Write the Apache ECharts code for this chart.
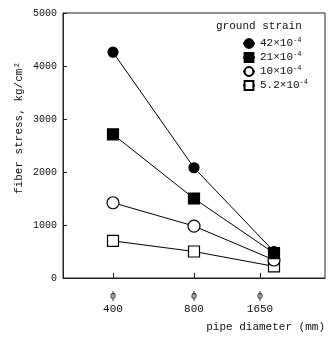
<!DOCTYPE html>
<html>
<head>
<meta charset="utf-8">
<script src="https://cdn.jsdelivr.net/npm/echarts@6/dist/echarts.min.js"></script>
<style>
  html, body { margin: 0; padding: 0; background: #fff; }
  #chart { width: 331px; height: 337px; }
</style>
</head>
<body>
<div id="chart"></div>
<script>
// pipe diameters (x categories), drawn at hand-spaced positions like the original
const diameters = ['400', '800', '1650'];
const tickPos = [50, 131, 197];
const pointPos = [50, 131, 211];
// ground strain series (x10^-4)
const strains = ['42', '21', '10', '5.2'];
const stress42 = [4260, 2080, 500];
const stress21 = [2710, 1500, 470];
const stress10 = [1420, 980, 340];
const stress52 = [700, 500, 220];
const yTicks = [0, 1000, 2000, 3000, 4000, 5000];

const font = 'Liberation Mono';
const chart = echarts.init(document.getElementById('chart'));

function pts(vals) {
    return vals.map((v, i) => [pointPos[i], v]);
}

const markers = [
    { symbol: 'circle', size: 10, fill: '#000' },
    { symbol: 'rect', size: 11, fill: '#000' },
    { symbol: 'circle', size: 12, fill: '#fff' },
    { symbol: 'rect', size: 11, fill: '#fff' }
];
const allStress = [stress42, stress21, stress10, stress52];

const option = {
    animation: false,
    grid: {
        left: 63, right: 6, top: 13, bottom: 59,
        show: true, borderColor: '#222', borderWidth: 1
    },
    title: {
        text: 'ground strain',
        left: 211, top: 16,
        textStyle: { fontFamily: font, fontSize: 11, fontWeight: 'normal', color: '#111' }
    },
    legend: {
        orient: 'vertical',
        left: 237, top: 32,
        itemWidth: 12, itemHeight: 11, itemGap: 2,
        data: strains,
        formatter: name => name + '×10{sup|-4}',
        textStyle: {
            fontFamily: font, fontSize: 11, color: '#111',
            rich: { sup: { fontFamily: font, fontSize: 7, padding: [0, 0, 6, 0] } }
        }
    },
    xAxis: {
        type: 'value',
        min: 0, max: 262,
        splitLine: { show: false },
        axisLine: { lineStyle: { color: '#222' } },
        axisTick: { inside: true, length: 5, customValues: tickPos, lineStyle: { color: '#222' } },
        axisLabel: {
            customValues: tickPos,
            margin: 12,
            lineHeight: 13,
            fontFamily: font, fontSize: 11, color: '#111',
            formatter: v => 'ϕ\n' + diameters[tickPos.indexOf(v)]
        }
    },
    yAxis: {
        type: 'value',
        min: 0, max: 5000, interval: 1000,
        splitLine: { show: false },
        axisLine: { lineStyle: { color: '#222' } },
        axisTick: { inside: true, length: 4, lineStyle: { color: '#222' } },
        axisLabel: {
            margin: 6, fontFamily: font, fontSize: 10, color: '#111',
            formatter: v => yTicks.includes(v) ? String(v) : ''
        }
    },
    graphic: [
        {
            type: 'text', x: 14, y: 128, rotation: Math.PI / 2,
            style: {
                text: 'fiber stress, kg/cm²', fontFamily: font, fontSize: 11,
                fill: '#111', align: 'center', verticalAlign: 'top'
            }
        },
        {
            type: 'text', x: 325, y: 322,
            style: {
                text: 'pipe diameter (mm)', fontFamily: font, fontSize: 11,
                fill: '#111', align: 'right', verticalAlign: 'top'
            }
        }
    ],
    series: strains.map((s, k) => ({
        name: s,
        type: 'line',
        data: pts(allStress[k]),
        symbol: markers[k].symbol,
        symbolSize: markers[k].size,
        itemStyle: { color: markers[k].fill, borderColor: '#000', borderWidth: 1.2 },
        lineStyle: { color: '#000', width: 1 },
        z: 10 - k
    }))
};
chart.setOption(option);
</script>
</body>
</html>
